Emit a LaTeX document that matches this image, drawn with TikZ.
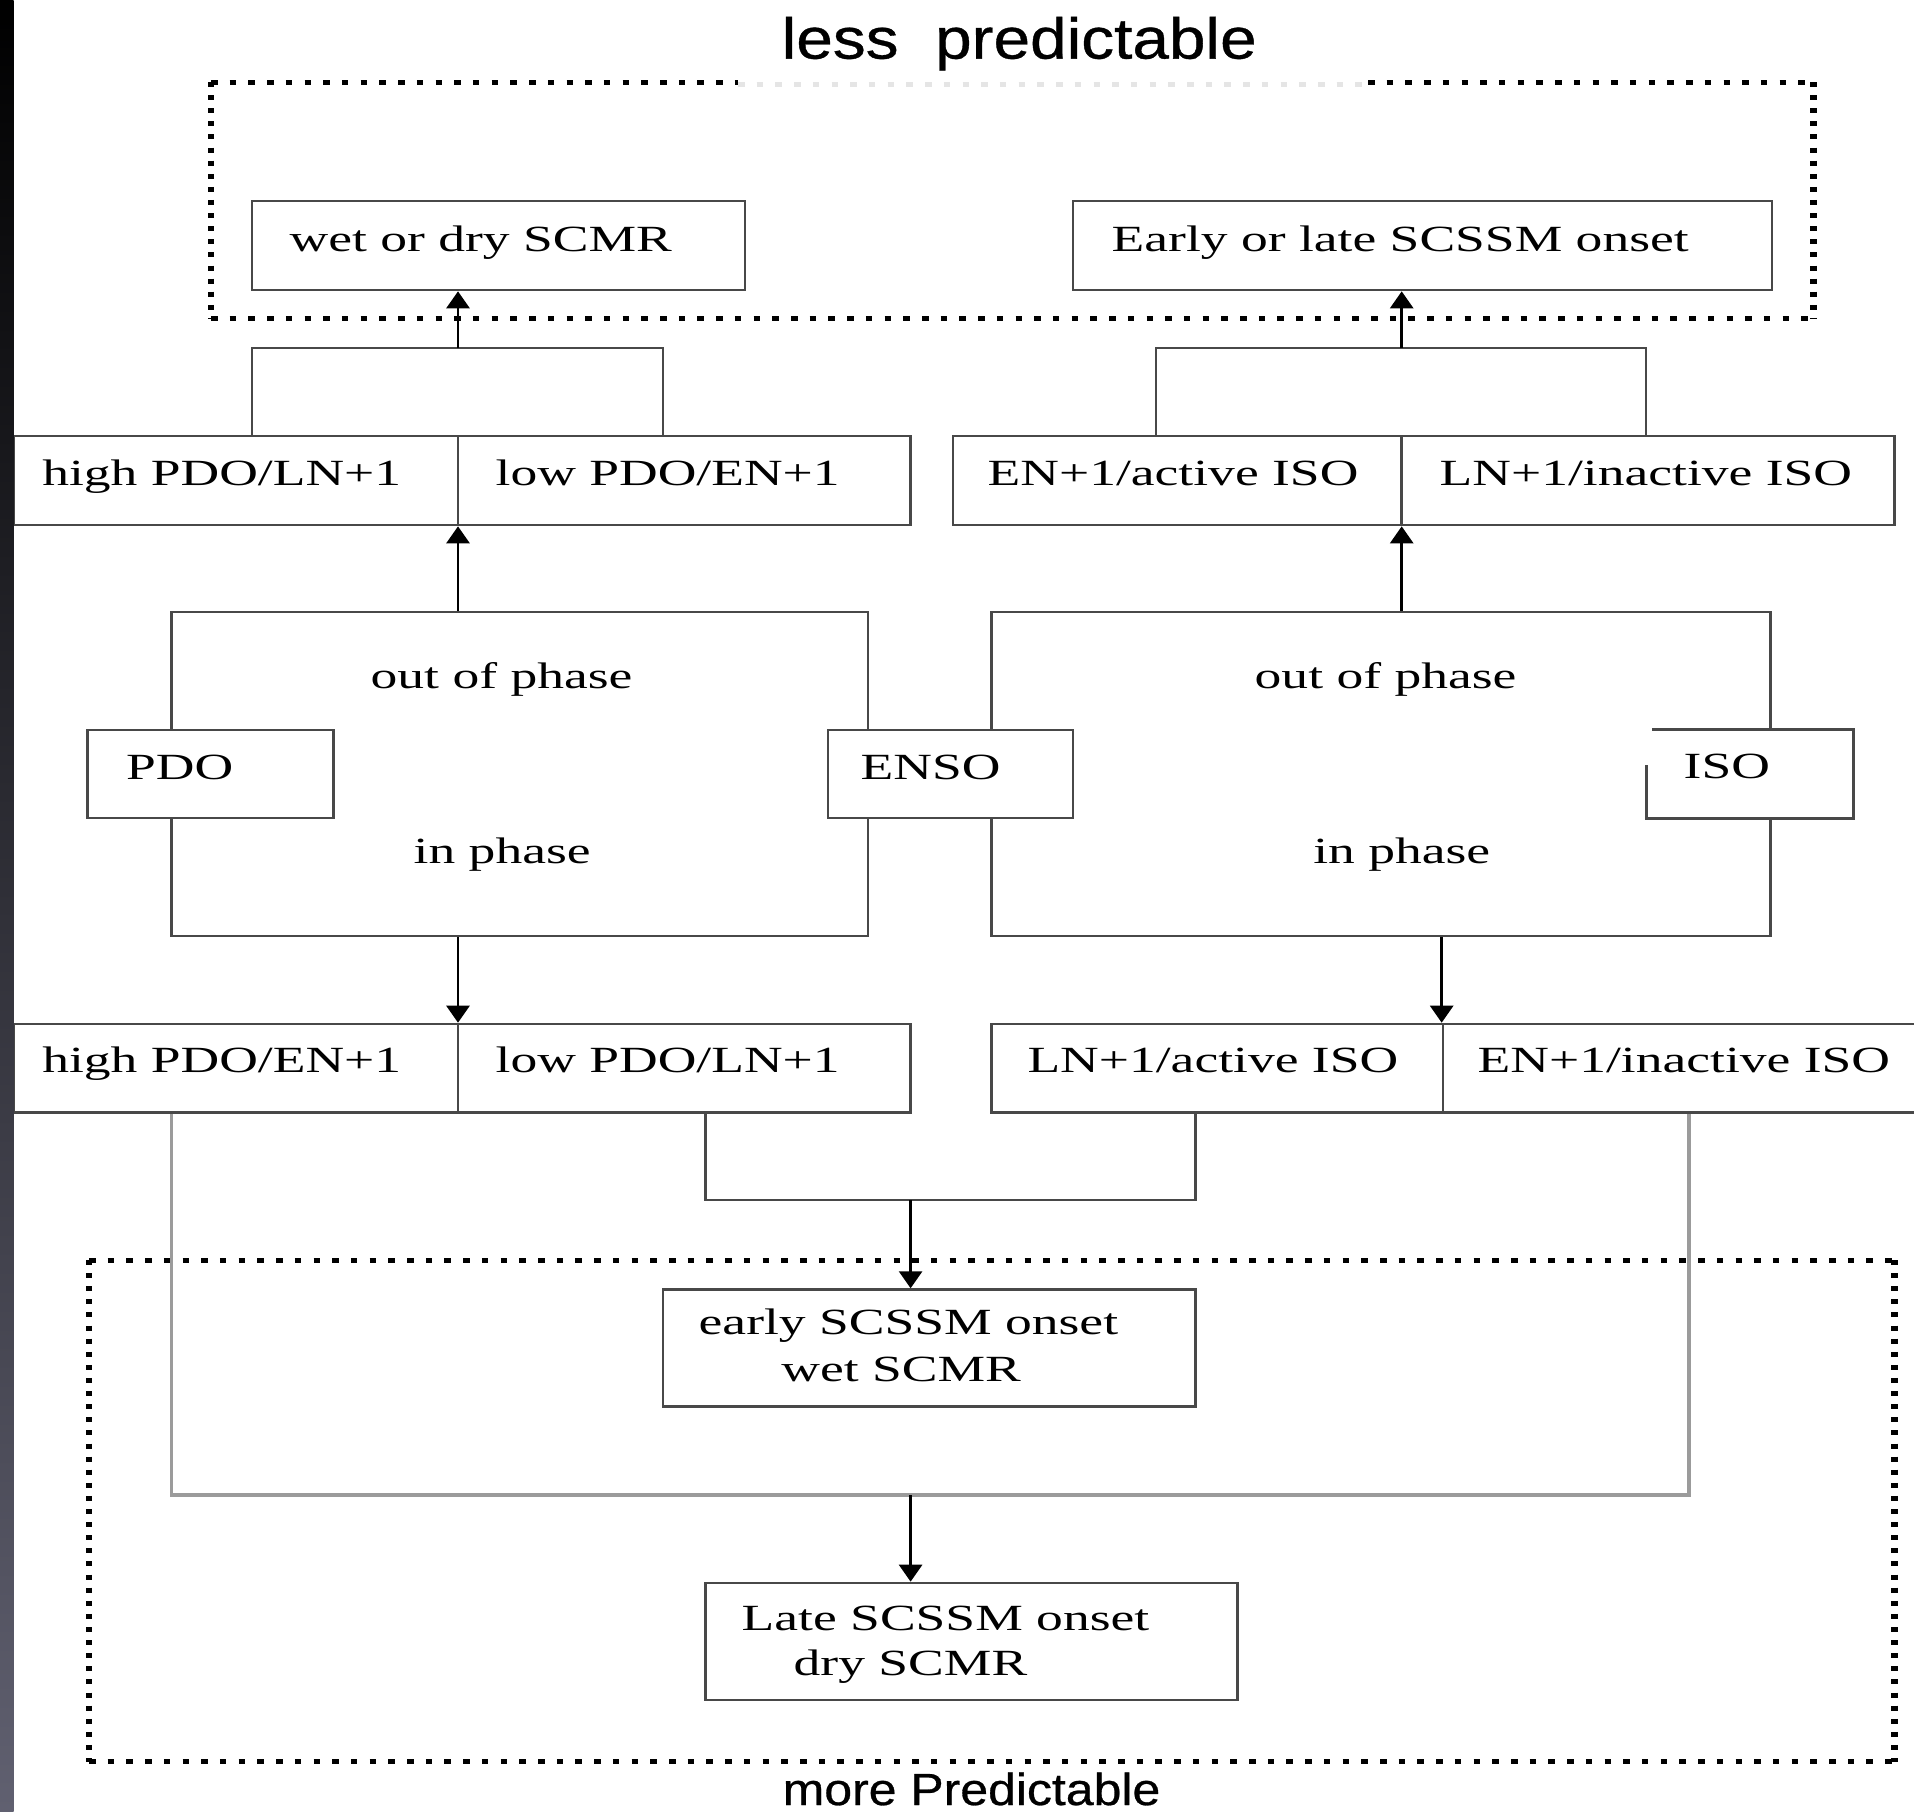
\documentclass[tikz,border=0pt]{standalone}
\usepackage{graphicx}
\usepackage{fontspec}
\setmainfont{Liberation Serif}
\newfontfamily\titlefont[FakeBold=0.6]{Liberation Sans}
\usetikzlibrary{arrows.meta,fit}
\definecolor{edge}{RGB}{72,72,72}
\definecolor{lgray}{RGB}{155,155,155}
\definecolor{stripbot}{RGB}{96,96,112}
\definecolor{stripmid}{RGB}{34,34,54}
\newcommand{\sxt}[1]{\scalebox{1.45}[1]{#1}}
\tikzset{
  box/.style={draw=edge, line width=0.75pt, fill=white, inner sep=0pt, fit={#1}},
  conn/.style={draw=edge, line width=0.75pt},
  conngray/.style={draw=lgray, line width=1.1pt},
  arr/.style={draw=black, line width=0.8pt, -{Triangle[width=0.23cm,length=0.17cm]}},
  hdot/.style={line width=0.05cm, dash pattern=on 0.065cm off 0.122cm},
  vdot/.style={line width=0.065cm, dash pattern=on 0.05cm off 0.081cm},
  lbl/.style={anchor=base west, inner sep=0pt, font=\fontsize{10.5pt}{13pt}\selectfont},
  ttl/.style={anchor=base west, inner sep=0pt, font=\titlefont\fontsize{16.4pt}{18pt}\selectfont},
  ttlsmall/.style={anchor=base west, inner sep=0pt, font=\titlefont\fontsize{12.8pt}{15pt}\selectfont}
}
\begin{document}
\begin{tikzpicture}[x=0.01cm,y=-0.01cm]
\useasboundingbox (0,0) rectangle (1914,1811);
\clip (0,0) rectangle (1914,1811);
\fill[white] (0,0) rectangle (1914,1811);

% dotted frames
\draw[hdot] (211,82) -- (738,82);
\draw[hdot, black!10] (738,84) -- (1368,84);
\draw[hdot] (1368,82) -- (1813.5,82);
\draw[hdot] (211,318) -- (1813.5,318);
\draw[vdot] (211,82) -- (211,318);
\draw[vdot] (1813.5,82) -- (1813.5,318);

\draw[hdot] (89,1260) -- (1894.7,1260);
\draw[hdot] (89,1761.5) -- (1894.7,1761.5);
\draw[vdot] (89,1260) -- (89,1761.5);
\draw[vdot] (1894.7,1260) -- (1894.7,1761.5);

% boxes
\node[box={(252,201) (745,290)}] (wet) {};
\node[box={(1073,201) (1772,290)}] (elt) {};

\node[box={(13.5,436) (458,525)}] (hplA) {};
\node[box={(458,436) (910.6,525)}] (lpeA) {};
\node[box={(953,436) (1401.7,525)}] (enA) {};
\node[box={(1401.7,436) (1894.7,525)}] (lnA) {};

\node[box={(171.5,612) (868,936)}] (bigL) {};
\node[box={(991.8,612) (1770.5,936)}] (bigR) {};

\node[box={(87.6,730) (333.7,818)}] (pdo) {};
\node[box={(828,730) (1073,818)}] (enso) {};
\node[fill=white, inner sep=0pt, fit={(1647,730) (1853,818)}] (iso) {};
\draw[conn] (iso.north west) ++(5.7,0) -- (iso.north east) -- (iso.south east) -- (iso.south west) -- ++(0,-54);

\node[box={(13.5,1024) (458,1112.6)}] (hpe) {};
\node[box={(458,1024) (910.6,1112.6)}] (lpl) {};
\node[box={(991.8,1024) (1443,1112.6)}] (lna) {};
\node[box={(1443,1024) (1935,1112.6)}] (eni) {};

\node[box={(663,1289.6) (1195.8,1406.5)}] (early) {};
\node[box={(705.5,1583) (1237.6,1700)}] (late) {};

% connectors
\coordinate (c1a) at (252,348);
\coordinate (c1b) at (663,348);
\coordinate (j1) at (458,348);
\draw[conn] (hplA.north -| c1a) -- (c1a) -- (c1b) -- (lpeA.north -| c1b);
\draw[arr] (j1) -- (j1 |- wet.south);

\coordinate (c2a) at (1156,348);
\coordinate (c2b) at (1646,348);
\coordinate (j2) at (1401.7,348);
\draw[conn] (enA.north -| c2a) -- (c2a) -- (c2b) -- (lnA.north -| c2b);
\draw[arr] (j2) -- (j2 |- elt.south);

\draw[arr] (bigL.north -| j1) -- (j1 |- hplA.south);
\draw[arr] (bigR.north -| j2) -- (j2 |- enA.south);
\draw[arr] (bigL.south -| j1) -- (j1 |- hpe.north);
\draw[arr] (bigR.south -| eni.north west) -- (eni.north west);

\coordinate (m1) at (705.5,1200);
\coordinate (m2) at (1195.8,1200);
\coordinate (m3) at (910.6,1200);
\draw[conn] (lpl.south -| m1) -- (m1) -- (m2) -- (lna.south -| m2);
\draw[arr] (m3) -- (m3 |- early.north);

\coordinate (n1) at (171.5,1495);
\coordinate (n2) at (1689.4,1495);
\coordinate (n3) at (910.6,1495);
\draw[conngray] (hpe.south -| n1) -- (n1) -- (n2) -- (eni.south -| n2);
\draw[arr] (n3) -- (n3 |- late.north);

% left dark strip
\shade[top color=black, middle color=stripmid, bottom color=stripbot] (0,0) rectangle (13.5,1811);

% texts
\node[ttl] (title) at (781,58.6) {\scalebox{1.14}[1]{less~~predictable}};
\node[ttlsmall] (more) at (782,1805) {\scalebox{1.11}[1]{more Predictable}};

\node[lbl] (twet) at (289,251) {\sxt{wet or dry SCMR}};
\node[lbl] (telt) at (1111,251) {\sxt{Early or late SCSSM onset}};
\node[lbl] (thpl) at (41.6,485) {\sxt{high PDO/LN+1}};
\node[lbl] (tlpe) at (495,485) {\sxt{low PDO/EN+1}};
\node[lbl] (tena) at (987,485) {\sxt{EN+1/active ISO}};
\node[lbl] (tlni) at (1439,485) {\sxt{LN+1/inactive ISO}};
\node[lbl] (toutL) at (370,688) {\sxt{out of phase}};
\node[lbl] (toutR) at (1254,688) {\sxt{out of phase}};
\node[lbl] (tpdo) at (125.5,779) {\sxt{PDO}};
\node[lbl] (tenso) at (860,779) {\sxt{ENSO}};
\node[lbl] (tiso) at (1683,778.3) {\sxt{ISO}};
\node[lbl] (tinL) at (413,863) {\sxt{in phase}};
\node[lbl] (tinR) at (1312.6,863) {\sxt{in phase}};
\node[lbl] (thpe) at (41.6,1072) {\sxt{high PDO/EN+1}};
\node[lbl] (tlpl) at (495,1072) {\sxt{low PDO/LN+1}};
\node[lbl] (tlna) at (1026.8,1072) {\sxt{LN+1/active ISO}};
\node[lbl] (teni) at (1477,1072) {\sxt{EN+1/inactive ISO}};
\node[lbl] (tearly1) at (698,1334.5) {\sxt{early SCSSM onset}};
\node[lbl] (tearly2) at (780.7,1381) {\sxt{wet SCMR}};
\node[lbl] (tlate1) at (741,1630.6) {\sxt{Late SCSSM onset}};
\node[lbl] (tlate2) at (793,1675.5) {\sxt{dry SCMR}};
\end{tikzpicture}
\end{document}
